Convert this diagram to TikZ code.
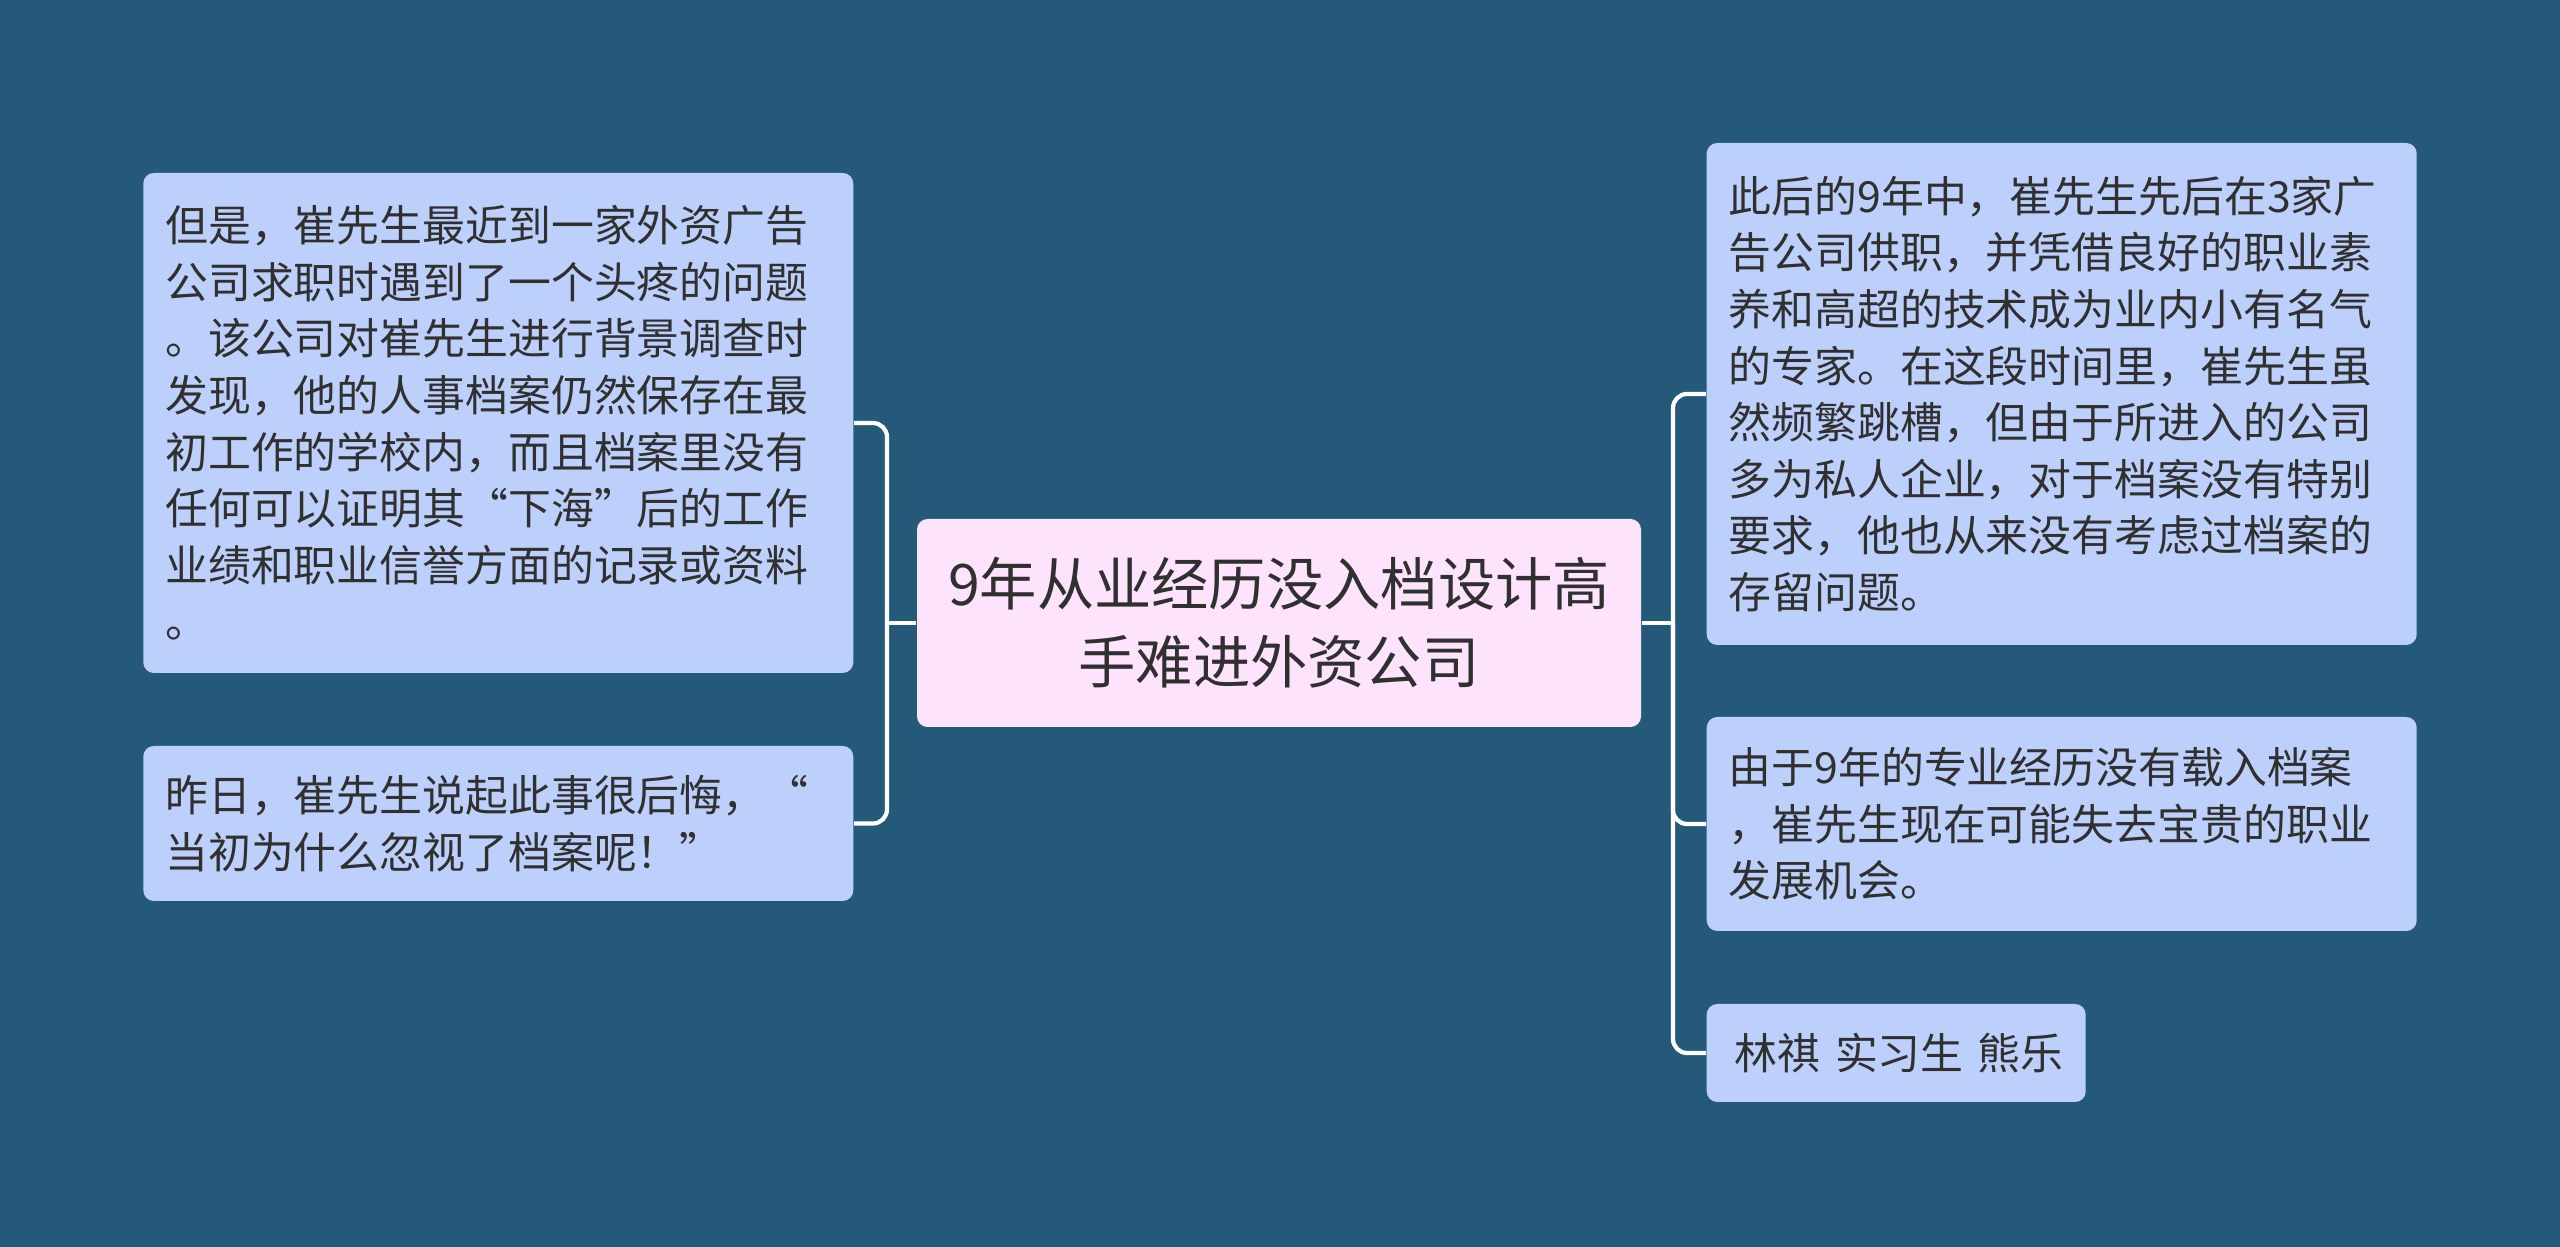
\documentclass[tikz,border=0pt]{standalone}
\usepackage{fontspec}
\setmainfont{Noto Sans CJK SC}
\definecolor{bgblue}{RGB}{36, 89, 122}
\definecolor{leafblue}{RGB}{189, 208, 251}
\definecolor{rootpink}{RGB}{253, 228, 252}
\definecolor{ink}{RGB}{48, 48, 48}

\begin{document}
\begin{tikzpicture}[
      leaf/.style={fill=leafblue, rounded corners=3pt, text width=6.66cm, inner xsep=0.22cm, inner ysep=0pt,
                 align=left, font=\fontsize{12.2}{16.1}\selectfont, text=ink},
      root/.style={fill=rootpink, rounded corners=3pt, minimum width=7.24cm, minimum height=2.08cm,
                 align=center, font=\fontsize{16.3}{22.1}\selectfont, text=ink, inner sep=0pt},
      ln/.style={draw=white, line width=1.2pt, rounded corners=4pt}]
      \fill[bgblue] (0,0) rectangle (25.6,12.47);
      \node[root] (c) at (12.79,6.24) {9年从业经历没入档设计高\\手难进外资公司};
      \node[leaf, minimum height=5.00cm, anchor=east] (l1) at (8.54,8.24)
        {但是，崔先生最近到一家外资广告\\公司求职时遇到了一个头疼的问题\\。该公司对崔先生进行背景调查时\\发现，他的人事档案仍然保存在最\\初工作的学校内，而且档案里没有\\任何可以证明其“下海”后的工作\\业绩和职业信誉方面的记录或资料\\。};
      \node[leaf, minimum height=1.55cm, anchor=east] (l2) at (8.54,4.235)
        {昨日，崔先生说起此事很后悔，“\\当初为什么忽视了档案呢！”};
      \node[leaf, minimum height=5.02cm, anchor=west] (r1) at (17.06,8.53)
        {此后的9年中，崔先生先后在3家广\\告公司供职，并凭借良好的职业素\\养和高超的技术成为业内小有名气\\的专家。在这段时间里，崔先生虽\\然频繁跳槽，但由于所进入的公司\\多为私人企业，对于档案没有特别\\要求，他也从来没有考虑过档案的\\存留问题。};
      \node[leaf, minimum height=2.14cm, anchor=west] (r2) at (17.06,4.23)
        {由于9年的专业经历没有载入档案\\，崔先生现在可能失去宝贵的职业\\发展机会。};
      \node[leaf, minimum height=0.98cm, text width=3.35cm, align=right, anchor=west] (r3) at (17.06,1.94)
        {林祺 实习生 熊乐};
      \coordinate (lj) at (8.87,6.24);
      \coordinate (rj) at (16.73,6.24);
      \draw[ln](c.west)--(lj); \draw[ln](lj)|-(l1.east); \draw[ln](lj)|-(l2.east);
      \draw[ln](c.east)--(rj); \draw[ln](rj)|-(r1.west); \draw[ln](rj)|-(r2.west); \draw[ln](rj)|-(r3.west);
    \end{tikzpicture}
\end{document}
